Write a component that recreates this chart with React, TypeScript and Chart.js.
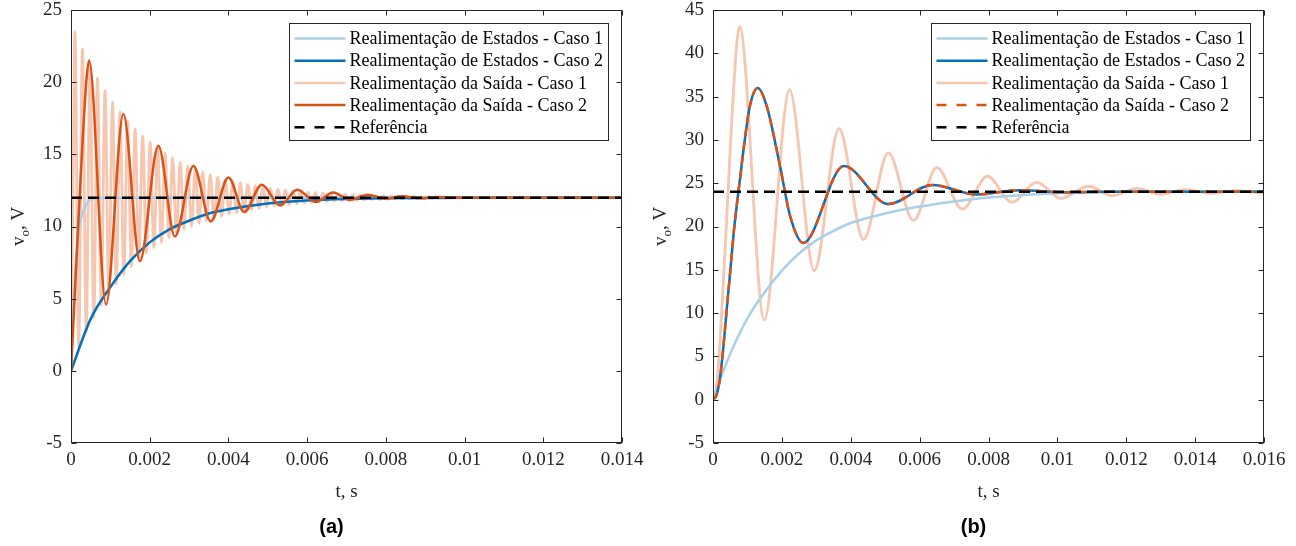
import { useEffect, useRef } from 'react';
import { Chart, registerables } from 'chart.js';

Chart.register(...registerables);

type Pt = [number, number];

// ---------- shared labels ----------
const seriesLabels = [
  'Realimentação de Estados - Caso 1',
  'Realimentação de Estados - Caso 2',
  'Realimentação da Saída - Caso 1',
  'Realimentação da Saída - Caso 2',
  'Referência',
];
const xTitle = 't, s';
const yTitleMain = 'v';
const yTitleSub = 'o';
const yTitleRest = ', V';

// ---------- panel (a) ----------
const aXTicks = [0, 0.002, 0.004, 0.006, 0.008, 0.01, 0.012, 0.014];
const aYTicks = [-5, 0, 5, 10, 15, 20, 25];

const aEstados1: Pt[] = [
  [0, 0], [0.00005, 3.8], [0.0001, 6.6], [0.00015, 8.5], [0.0002, 9.8], [0.0003, 11.0],
  [0.0004, 11.6], [0.0005, 11.85], [0.0007, 12], [0.014, 12],
];
const aEstados2: Pt[] = [
  [0, 0], [0.0005, 3.6], [0.001, 5.8], [0.0015, 7.6], [0.002, 8.9], [0.0025, 9.8],
  [0.003, 10.4], [0.0035, 10.9], [0.004, 11.2], [0.005, 11.6], [0.006, 11.8],
  [0.007, 11.9], [0.008, 11.95], [0.01, 12], [0.014, 12],
];
const aSaida1: Pt[] = [
  [0, 0], [0.00005, 12.5],
  [0.0001, 23.5], [0.000196, 1.65], [0.000291, 22.3], [0.000387, 2.73],
  [0.000482, 21.23], [0.000578, 3.69], [0.000673, 20.27], [0.000769, 4.56],
  [0.000864, 19.41], [0.00096, 5.33], [0.001055, 18.64], [0.001151, 6.02],
  [0.001246, 17.95], [0.001342, 6.64], [0.001437, 17.33], [0.001533, 7.2],
  [0.001628, 16.78], [0.001724, 7.7], [0.001819, 16.28], [0.001915, 8.15],
  [0.00201, 15.84], [0.002106, 8.54], [0.002201, 15.44], [0.002297, 8.9],
  [0.002392, 15.08], [0.002488, 9.23], [0.002583, 14.76], [0.002679, 9.52],
  [0.002774, 14.47], [0.00287, 9.78], [0.002965, 14.21], [0.003061, 10.01],
  [0.003156, 13.98], [0.003252, 10.22], [0.003347, 13.78], [0.003443, 10.4],
  [0.003538, 13.59], [0.003634, 10.57], [0.003729, 13.43], [0.003825, 10.71],
  [0.00392, 13.28], [0.004016, 10.85], [0.004111, 13.15], [0.004207, 10.96],
  [0.004302, 13.03], [0.004398, 11.07], [0.004493, 12.92], [0.004589, 11.17],
  [0.004684, 12.82], [0.00478, 11.26], [0.004875, 12.74], [0.004971, 11.33],
  [0.005066, 12.66], [0.005162, 11.41], [0.005257, 12.59], [0.005353, 11.47],
  [0.005448, 12.53], [0.005544, 11.52], [0.005639, 12.48], [0.005735, 11.57],
  [0.00583, 12.43], [0.005926, 11.61], [0.006021, 12.38], [0.006117, 11.66],
  [0.006212, 12.34], [0.006308, 11.69], [0.006403, 12.31], [0.006499, 11.72],
  [0.006594, 12.27], [0.00669, 11.76], [0.006785, 12.25], [0.006881, 11.78],
  [0.006976, 12.22], [0.007072, 11.8], [0.007167, 12.2], [0.007263, 11.82],
  [0.007358, 12.18], [0.007454, 11.84], [0.007549, 12.16], [0.007645, 11.86],
  [0.00774, 12.14], [0.007836, 11.87], [0.007931, 12.13], [0.008027, 11.88],
  [0.008122, 12.12], [0.008218, 11.9], [0.008313, 12.1], [0.008409, 11.91],
  [0.008504, 12.09], [0.0086, 11.92], [0.008695, 12.08], [0.008791, 11.93],
  [0.008886, 12.07], [0.008982, 11.94], [0.009077, 12.06], [0.009173, 11.95],
  [0.009268, 12.05], [0.009364, 11.96], [0.0098, 12.0], [0.014, 12.0],
];
const aSaida2: Pt[] = [
  [0, 0], [0.0001, 5.5], [0.0002, 11], [0.0003, 16.2], [0.0004, 20.4], [0.00046, 21.5],
  [0.00089, 4.6], [0.00133, 17.8], [0.00175, 7.6], [0.00222, 15.6], [0.00264, 9.3],
  [0.00311, 14.2], [0.00355, 10.35], [0.004, 13.4], [0.0044, 11.0], [0.00485, 12.9],
  [0.00531, 11.46], [0.00575, 12.54], [0.00622, 11.7], [0.00666, 12.36], [0.00709, 11.85],
  [0.00754, 12.2], [0.00798, 11.92], [0.00842, 12.1], [0.00886, 11.96], [0.0093, 12.04],
  [0.0097, 12], [0.014, 12],
];
const aReferencia: Pt[] = [[0, 12], [0.014, 12]];

// ---------- panel (b) ----------
const bXTicks = [0, 0.002, 0.004, 0.006, 0.008, 0.01, 0.012, 0.014, 0.016];
const bYTicks = [-5, 0, 5, 10, 15, 20, 25, 30, 35, 40, 45];

const bEstados1: Pt[] = [
  [0, 0], [0.0003, 3.3], [0.0006, 6.2], [0.001, 9.4], [0.0015, 12.4], [0.002, 14.9],
  [0.0025, 16.9], [0.003, 18.4], [0.0035, 19.5], [0.004, 20.4], [0.005, 21.5],
  [0.006, 22.3], [0.007, 22.9], [0.008, 23.35], [0.009, 23.65], [0.01, 23.85],
  [0.011, 23.95], [0.012, 24], [0.016, 24],
];
const bEstados2: Pt[] = [
  [0, 0], [0.0001, 0.5], [0.0002, 2.4], [0.0003, 6.0], [0.0004, 10.5], [0.0005, 14.8],
  [0.0006, 19.2], [0.0007, 22.8], [0.0008, 26.0], [0.0009, 29.3], [0.00107, 33.9],
  [0.0013, 36.0], [0.00156, 33.9], [0.00195, 26.9], [0.00224, 21.2], [0.00262, 18.1],
  [0.0038, 27.0], [0.00509, 22.6], [0.00637, 24.8], [0.00766, 23.7], [0.0089, 24.2],
  [0.0102, 23.95], [0.0115, 24.02], [0.013, 24], [0.016, 24],
];
const bSaida1: Pt[] = [
  [0, 0], [0.0001, 1.5], [0.0002, 6.5], [0.0003, 13.5], [0.0004, 21], [0.0005, 29],
  [0.0006, 36], [0.0007, 41.5], [0.00077, 43.1], [0.00149, 9.2], [0.00222, 35.8],
  [0.00294, 14.9], [0.00366, 31.3], [0.00437, 18.5], [0.00509, 28.5], [0.00582, 20.7],
  [0.0065, 26.8], [0.00724, 22.0], [0.00797, 25.8], [0.00868, 22.8], [0.0094, 25.1],
  [0.0101, 23.25], [0.0109, 24.65], [0.0116, 23.55], [0.0123, 24.4], [0.013, 23.72],
  [0.0137, 24.25], [0.0145, 23.83], [0.0152, 24.15], [0.0159, 23.9], [0.016, 23.9],
];
const bSaida2: Pt[] = bEstados2;
const bReferencia: Pt[] = [[0, 24], [0.016, 24]];

// ---------- styling ----------
const SERIF = '"Liberation Serif", "Times New Roman", serif';
const SANS = '"Liberation Sans", Arial, sans-serif';
const AXIS_COLOR = '#262626';
const COLORS = ['rgb(168, 208, 234)', '#0072BD', 'rgb(245, 198, 176)', '#D95319', '#000000'];
const ORDERS = [3, 2, 4, 1, 0];
const WIDTHS = [2.5, 2.5, 2.8, 2.5, 2.5];

interface PanelSpec {
  xTicks: number[];
  yTicks: number[];
  series: Pt[][];
  dashed: boolean[];
  caption: string;
  yAxisWidth: number;
  rightPad: number;
}

const frameLegendPlugin = {
  id: 'frameLegend',
  afterDraw(chart: any, _args: any, opts: any) {
    const ctx: CanvasRenderingContext2D = chart.ctx;
    const { left, right, top, bottom } = chart.chartArea;
    const xs = chart.scales.x;
    const ys = chart.scales.y;
    ctx.save();
    // frame
    ctx.strokeStyle = AXIS_COLOR;
    ctx.lineWidth = 1;
    ctx.setLineDash([]);
    const L = Math.round(left) + 0.5, R = Math.round(right) - 0.5;
    const T = Math.round(top) + 0.5, B = Math.round(bottom) - 0.5;
    ctx.strokeRect(L, T, R - L, B - T);
    // inward ticks
    ctx.beginPath();
    for (const t of xs.ticks) {
      const px = Math.round(xs.getPixelForValue(t.value)) + 0.5;
      ctx.moveTo(px, B); ctx.lineTo(px, B - 5);
      ctx.moveTo(px, T); ctx.lineTo(px, T + 5);
    }
    for (const t of ys.ticks) {
      const py = Math.round(ys.getPixelForValue(t.value)) + 0.5;
      ctx.moveTo(L, py); ctx.lineTo(L + 5, py);
      ctx.moveTo(R, py); ctx.lineTo(R - 5, py);
    }
    ctx.stroke();

    // legend
    ctx.font = `18px ${SERIF}`;
    const datasets = chart.data.datasets;
    let maxW = 0;
    for (const d of datasets) maxW = Math.max(maxW, ctx.measureText(d.label).width);
    const boxW = Math.round(60 + maxW + 6);
    const boxH = 117;
    const bx = Math.round(right - 14 - boxW) + 0.5;
    const by = Math.round(top + 13) + 0.5;
    ctx.fillStyle = '#ffffff';
    ctx.fillRect(bx, by, boxW, boxH);
    ctx.strokeStyle = AXIS_COLOR;
    ctx.lineWidth = 1;
    ctx.strokeRect(bx, by, boxW, boxH);
    datasets.forEach((d: any, i: number) => {
      const cy = by + 15 + i * 22.2;
      ctx.beginPath();
      ctx.strokeStyle = d.borderColor;
      ctx.lineWidth = 2.5;
      ctx.setLineDash(d.borderDash && d.borderDash.length ? [10, 10] : []);
      ctx.moveTo(bx + 5, cy);
      ctx.lineTo(bx + 56, cy);
      ctx.stroke();
      ctx.setLineDash([]);
      ctx.fillStyle = '#000';
      ctx.textBaseline = 'middle';
      ctx.textAlign = 'left';
      ctx.fillText(d.label, bx + 60, cy + 1);
    });

    // x title
    ctx.fillStyle = AXIS_COLOR;
    ctx.font = `19px ${SERIF}`;
    ctx.textAlign = 'center';
    ctx.textBaseline = 'middle';
    ctx.fillText(xTitle, (left + right) / 2, 492);

    // y title with subscript
    ctx.save();
    const cyMid = (top + bottom) / 2;
    ctx.translate(left - 47, cyMid);
    ctx.rotate(-Math.PI / 2);
    ctx.textBaseline = 'alphabetic';
    ctx.textAlign = 'left';
    const mainFont = `19px ${SERIF}`;
    const subFont = `13px ${SERIF}`;
    ctx.font = mainFont;
    const w1 = ctx.measureText(yTitleMain).width;
    const w3 = ctx.measureText(yTitleRest).width;
    ctx.font = subFont;
    const w2 = ctx.measureText(yTitleSub).width;
    const total = w1 + w2 + w3;
    let x0 = -total / 2;
    ctx.font = mainFont;
    ctx.fillText(yTitleMain, x0, 0);
    x0 += w1;
    ctx.font = subFont;
    ctx.fillText(yTitleSub, x0, 5);
    x0 += w2;
    ctx.font = mainFont;
    ctx.fillText(yTitleRest, x0, 0);
    ctx.restore();

    // caption
    ctx.fillStyle = '#000';
    ctx.font = `bold 20px ${SANS}`;
    ctx.textAlign = 'center';
    ctx.textBaseline = 'middle';
    ctx.fillText(opts.caption, (left + right) / 2 - 15, 527);
    ctx.restore();
  },
};

function makeConfig(spec: PanelSpec): any {
  const datasets = spec.series.map((pts, i) => ({
    label: seriesLabels[i],
    data: pts.map(([x, y]) => ({ x, y })),
    borderColor: COLORS[i],
    backgroundColor: COLORS[i],
    borderWidth: WIDTHS[i],
    borderDash: spec.dashed[i] ? (i === 4 ? [11, 6] : [9, 5]) : [],
    pointRadius: 0,
    fill: false,
    order: ORDERS[i],
    tension: i === 4 ? 0 : 0.4,
    cubicInterpolationMode: i === 4 ? 'default' : 'monotone',
  }));
  const tickFont = { family: SERIF, size: 19, lineHeight: 1 };
  return {
    type: 'line',
    data: { datasets },
    options: {
      animation: false,
      responsive: false,
      devicePixelRatio: 1,
      layout: { padding: { left: 0, right: spec.rightPad, top: 10, bottom: 0 } },
      plugins: {
        legend: { display: false },
        tooltip: { enabled: false },
        title: { display: false },
        frameLegend: { caption: spec.caption },
      },
      scales: {
        x: {
          type: 'linear',
          min: spec.xTicks[0],
          max: spec.xTicks[spec.xTicks.length - 1],
          afterBuildTicks: (s: any) => { s.ticks = spec.xTicks.map((v) => ({ value: v })); },
          afterFit: (s: any) => {
            s.height = 103;
            s.paddingLeft = 0; s.paddingRight = 0; s.paddingTop = 0; s.paddingBottom = 0;
          },
          grid: { display: false, drawTicks: false },
          border: { display: false },
          ticks: {
            font: tickFont, color: AXIS_COLOR, padding: 8, maxRotation: 0, autoSkip: false,
            callback: (v: any) => String(Number(v)),
          },
        },
        y: {
          type: 'linear',
          min: spec.yTicks[0],
          max: spec.yTicks[spec.yTicks.length - 1],
          afterBuildTicks: (s: any) => { s.ticks = spec.yTicks.map((v) => ({ value: v })); },
          afterFit: (s: any) => {
            s.width = spec.yAxisWidth;
            s.paddingLeft = 0; s.paddingRight = 0; s.paddingTop = 0; s.paddingBottom = 0;
          },
          grid: { display: false, drawTicks: false },
          border: { display: false },
          ticks: {
            font: tickFont, color: AXIS_COLOR, padding: 9, autoSkip: false,
            callback: (v: any) => String(Number(v)),
          },
        },
      },
    },
    plugins: [frameLegendPlugin],
  };
}

const panelA: PanelSpec = {
  xTicks: aXTicks,
  yTicks: aYTicks,
  series: [aEstados1, aEstados2, aSaida1, aSaida2, aReferencia],
  dashed: [false, false, false, false, true],
  caption: '(a)',
  yAxisWidth: 71,
  rightPad: 26,
};
const panelB: PanelSpec = {
  xTicks: bXTicks,
  yTicks: bYTicks,
  series: [bEstados1, bEstados2, bSaida1, bSaida2, bReferencia],
  dashed: [false, false, false, true, true],
  caption: '(b)',
  yAxisWidth: 65,
  rightPad: 32,
};

function Panel({ spec, left }: { spec: PanelSpec; left: number }) {
  const ref = useRef<HTMLCanvasElement>(null);
  useEffect(() => {
    const chart = new Chart(ref.current as HTMLCanvasElement, makeConfig(spec));
    return () => chart.destroy();
  }, [spec]);
  return (
    <canvas
      ref={ref}
      width={648}
      height={546}
      style={{ position: 'absolute', left, top: 0, width: 648, height: 546 }}
    />
  );
}

export default function App() {
  return (
    <div style={{ position: 'absolute', left: 0, top: 0, width: 1296, height: 546, background: '#fff' }}>
      <Panel spec={panelA} left={0} />
      <Panel spec={panelB} left={648} />
    </div>
  );
}
